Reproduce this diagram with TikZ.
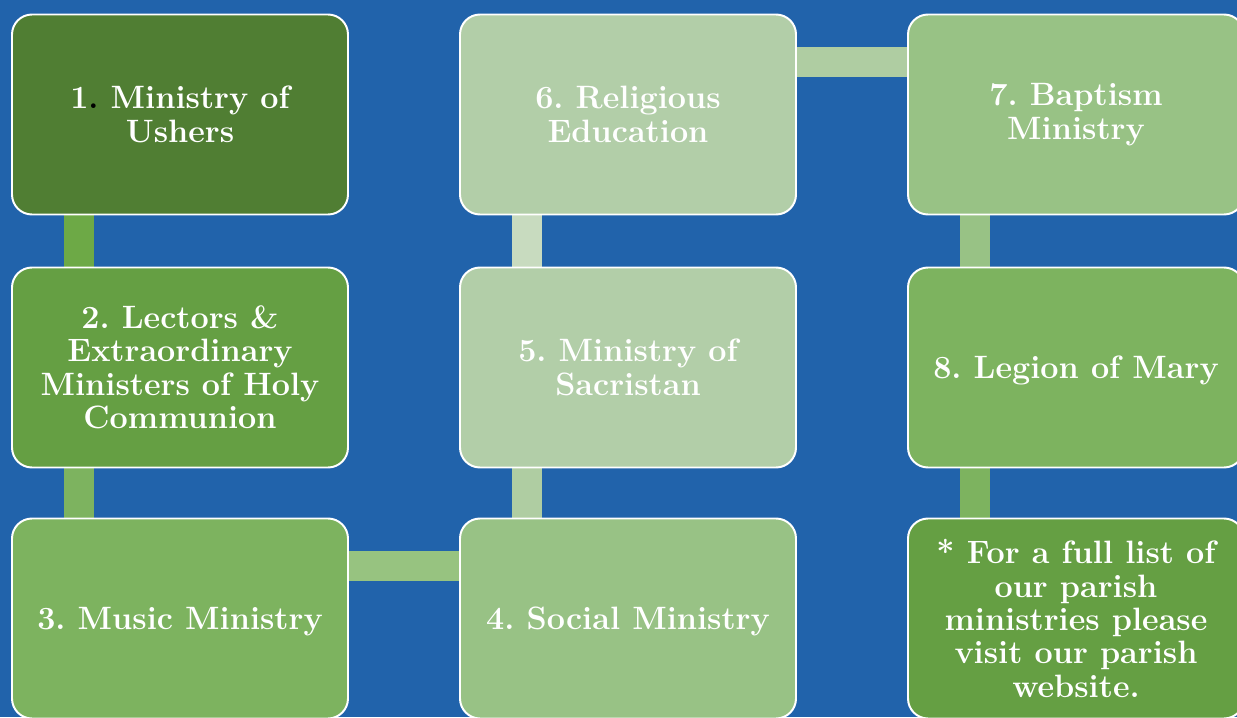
\documentclass[tikz,border=0pt]{standalone}
\usepackage{tikz}
\usetikzlibrary{backgrounds}
\definecolor{bgblue}{HTML}{2163AB}
\definecolor{gA}{HTML}{507E33}
\definecolor{gB}{HTML}{659F43}
\definecolor{gC}{HTML}{7DB35F}
\definecolor{gD}{HTML}{98C285}
\definecolor{gE}{HTML}{B2CEA8}
\definecolor{lAB}{HTML}{6DA946}
\definecolor{lCD}{HTML}{97C380}
\definecolor{lDE}{HTML}{AFCDA2}
\definecolor{lEF}{HTML}{C8DBBF}
\tikzset{ministry/.style={draw=white, line width=1.4pt, rounded corners=0.5cm,
    minimum width=8.4cm, minimum height=5cm, inner sep=0pt, align=center,
    text=white, font=\bfseries\fontsize{23}{23.8}\selectfont},
  oneline/.style={text depth=0pt},
  link/.style={line width=0.75cm}}
\frenchspacing

\begin{document}
\begin{tikzpicture}
\def\colA {4.5}     % x of first column
\def\colB {15.7}    % x of second column
\def\colC {26.9}    % x of third column
\def\rowA {-2.8625} % y of top row
\def\rowB {-9.1875} % y of middle row
\def\rowC {-15.4625}% y of bottom row
\def\off {1.7cm}    % offset of a link from the box corner
\useasboundingbox (0,0) rectangle (30.925,-17.925);
% boxes:
 \node[ministry, fill=gA] (b1) at (\colA,\rowA) {1\textcolor{black}{.} Ministry of\\Ushers};
 \node[ministry, fill=gB] (b2) at (\colA,\rowB) {2. Lectors \&\\Extraordinary\\Ministers of Holy\\Communion};
 \node[ministry, oneline, fill=gC] (b3) at (\colA,\rowC) {3. Music Ministry};
 \node[ministry, oneline, fill=gD] (b4) at (\colB,\rowC) {4. Social Ministry};
 \node[ministry, fill=gE] (b5) at (\colB,\rowB) {5. Ministry of\\Sacristan};
 \node[ministry, fill=gE] (b6) at (\colB,\rowA) {6. Religious\\Education};
 \node[ministry, fill=gD] (b7) at (\colC,\rowA) {7. Baptism\\Ministry};
 \node[ministry, oneline, fill=gC] (b8) at (\colC,\rowB) {8. Legion of Mary};
 \node[ministry, fill=gB] (b9) at (\colC,\rowC) {* For a full list of\\our parish\\ministries please\\visit our parish\\website.};
% background and links:
\begin{scope}[on background layer]
 \fill[bgblue] (0,0) rectangle (30.925,-17.925);
 \draw[link, draw=lAB] ([xshift=\off]b1.south west) -- ([xshift=\off]b2.north west);
 \draw[link, draw=gC] ([xshift=\off]b2.south west) -- ([xshift=\off]b3.north west);
 \draw[link, draw=lCD] ([yshift=-1.2cm]b3.north east) -- ([yshift=-1.2cm]b4.north west);
 \draw[link, draw=lDE] ([xshift=\off]b4.north west) -- ([xshift=\off]b5.south west);
 \draw[link, draw=lEF] ([xshift=\off]b5.north west) -- ([xshift=\off]b6.south west);
 \draw[link, draw=lDE] ([yshift=-1.2cm]b6.north east) -- ([yshift=-1.2cm]b7.north west);
 \draw[link, draw=gD] ([xshift=\off]b7.south west) -- ([xshift=\off]b8.north west);
 \draw[link, draw=gC] ([xshift=\off]b8.south west) -- ([xshift=\off]b9.north west);
\end{scope}
\end{tikzpicture}
\end{document}
